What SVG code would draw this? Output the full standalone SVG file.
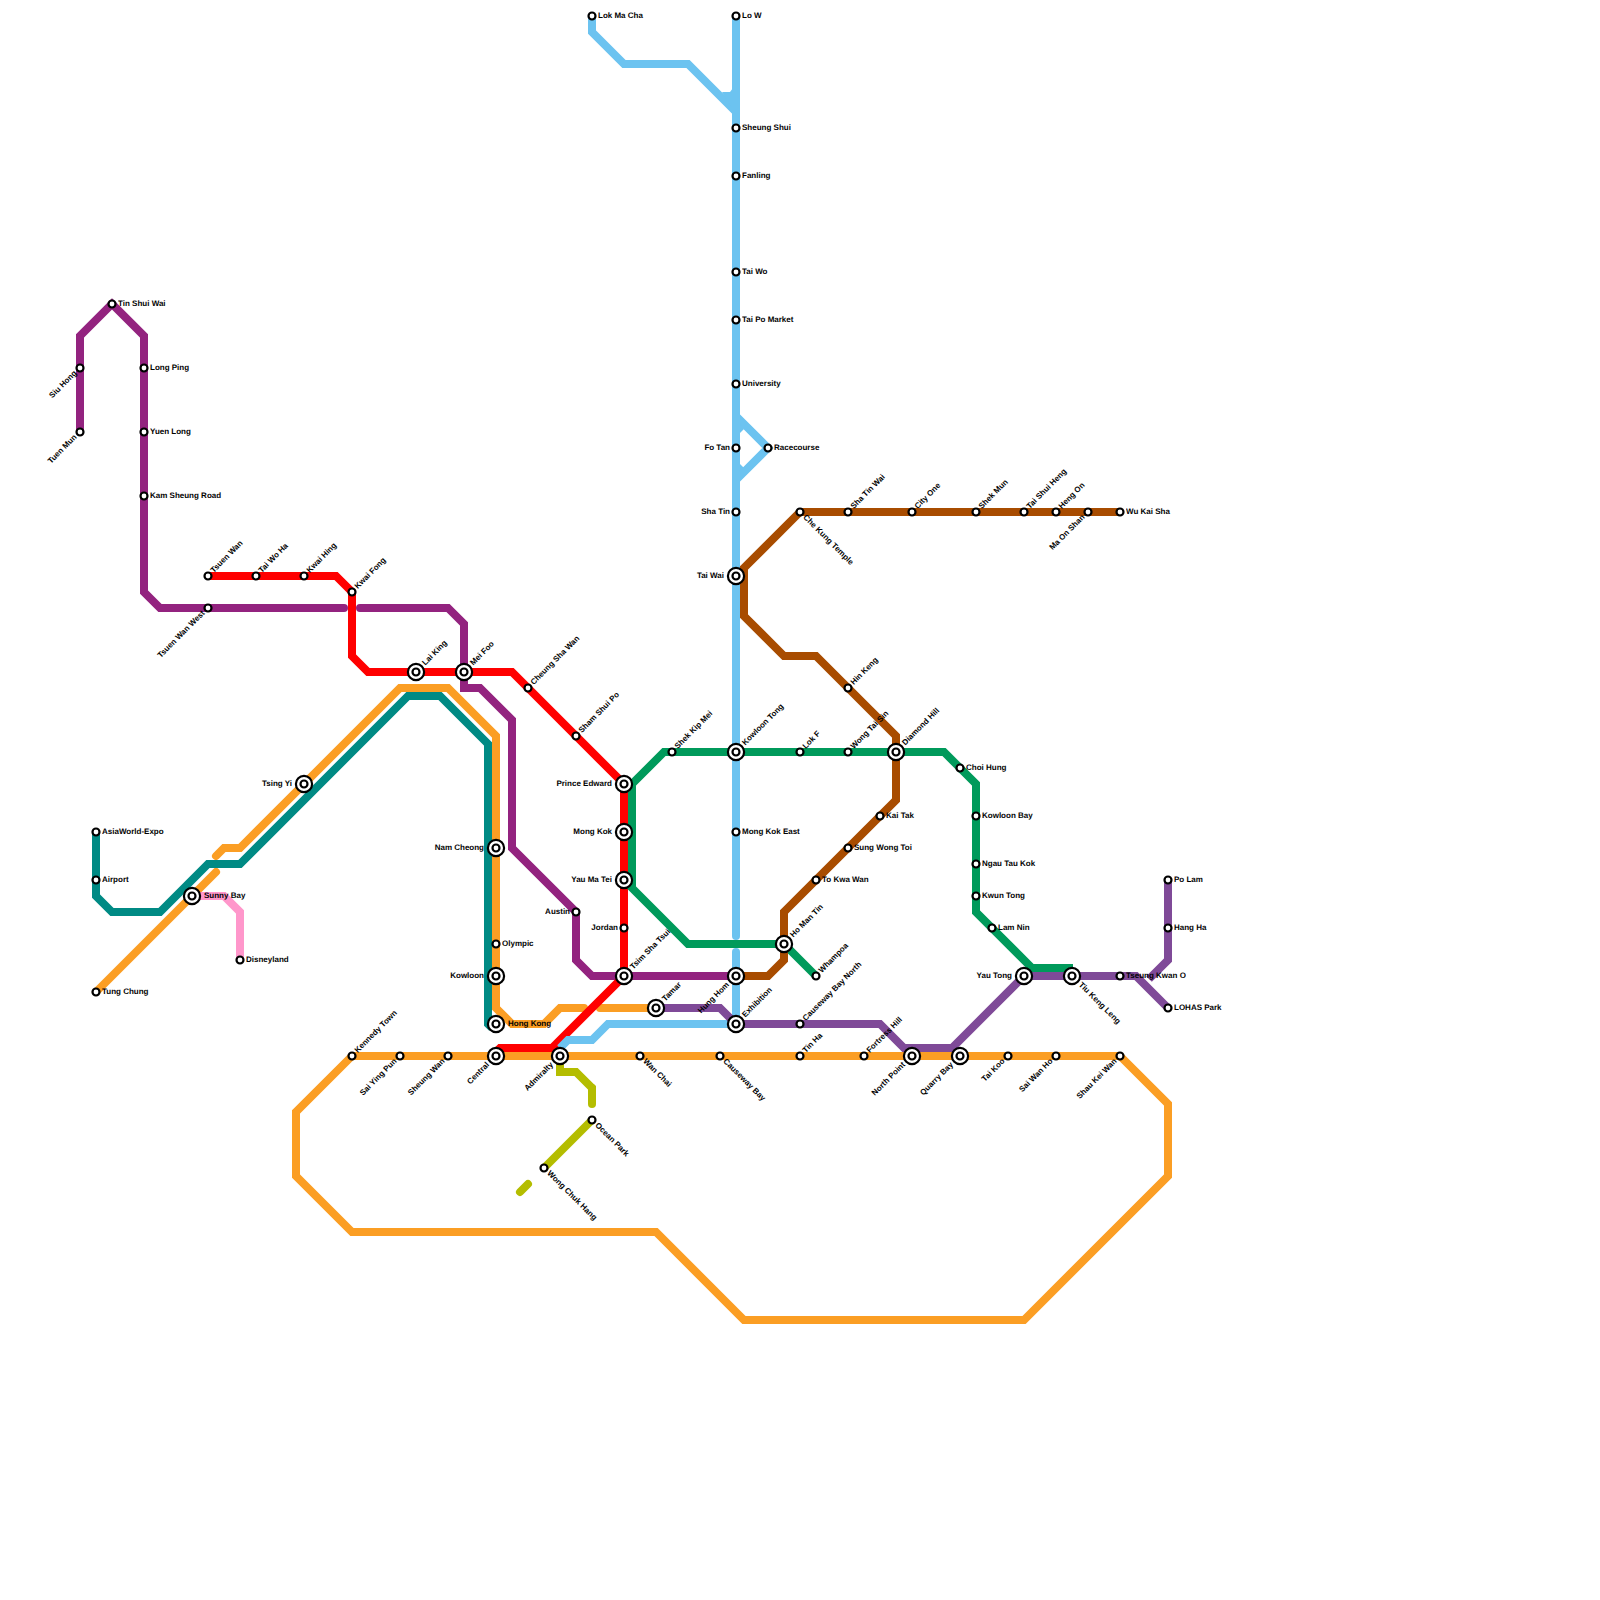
<svg xmlns="http://www.w3.org/2000/svg" width="1600" height="1600" viewBox="0 0 1600 1600">
<style>
.l{fill:none;stroke-width:8;stroke-linejoin:miter;stroke-linecap:butt}
.rc{stroke-linecap:round}
.or{stroke:#FB9E24}.te{stroke:#008A84}.pu{stroke:#93237F}.re{stroke:#FF0000}.gr{stroke:#009A5B}.bl{stroke:#6CC3F0}.br{stroke:#A84C00}.pk{stroke:#FF97CB}.li{stroke:#B4BD00}.vi{stroke:#7F4A98}
.blf{fill:#6CC3F0}
.ring{fill:#fff;stroke:#000;stroke-width:2.2}
text{font-family:"Liberation Sans",Arial,sans-serif;font-size:8px;font-weight:bold;fill:#000;text-rendering:geometricPrecision;opacity:.99}
.e{text-anchor:end}
</style>
<defs>
<circle id="s" class="ring" r="3.5"/>
<g id="i"><circle class="ring" r="8.1"/><circle class="ring" r="3.5"/></g>
</defs>
<rect width="1600" height="1600" fill="#fff"/>
<g id="connectors">
<path class="l or" d="M352,1056H1120L1168,1104V1176L1024,1320H744L656,1232H352L296,1176V1112L352,1056"/>
<path class="l or rc" d="M96,992L216,872"/>
<path class="l or rc" d="M216,856L224,848H240L400,688H448L496,736V1008L512,1024H544L560,1008H584"/>
<path class="l or rc" d="M600,1008H656"/>
<path class="l te" d="M96,832V896L112,912H160L208,864H240L408,696H440L488,744V1024L492,1028"/>
<path class="l pk" d="M192,896H224L240,912V960"/>
<path class="l pu rc" d="M80,432V336L112,304L144,336V592L160,608H344"/>
<path class="l pu rc" d="M360,608H448L464,624V688H480L512,720V848L576,912V960L592,976H736"/>
<path class="l bl" d="M592,16V32L624,64H688L736,112"/>
<polygon class="blf" points="722,92 730,92 733,88 733,110"/>
<path class="l bl rc" d="M736,16V936"/>
<path class="l bl rc" d="M736,952V1024"/>
<path class="l bl" d="M736,416L768,448L736,480"/>
<polygon class="blf" points="740,424 740,433 744,429"/>
<polygon class="blf" points="740,472 740,464 744,468"/>
<path class="l re" d="M208,576H336L352,592V656L368,672H512L624,784V976L552,1048H500L494,1054"/>
<path class="l bl" d="M736,1024H608L592,1040H568L560,1048"/>
<path class="l gr" d="M816,976L784,944H688L624,880"/>
<path class="l gr" d="M632,888V784L664,752H944L976,784V912L1032,968H1073"/>
<path class="l br" d="M1120,512H800L744,568V616L784,656H816L896,736V800L784,912V960L768,976H736"/>
<path class="l vi" d="M656,1008H720L736,1024H880L904,1048H952L1024,976H1136L1168,1008"/>
<path class="l vi" d="M1168,880V960L1149,979"/>
<path class="l li" d="M560,1056V1072H576L592,1088V1104"/>
<path class="l li rc" d="M592,1088V1104"/>
<path class="l li" d="M592,1120L544,1168"/>
<path class="l li rc" d="M528,1184L520,1192"/>
</g>
<g id="n-tin-shui-wai" transform="translate(112 304)"><use href="#s"/><text x="6" y="2">Tin Shui Wai</text></g>
<g id="n-siu-hong" transform="translate(80 368)"><use href="#s"/><text class="e" x="-6" y="2" transform="rotate(-45)">Siu Hong</text></g>
<g id="n-tuen-mun" transform="translate(80 432)"><use href="#s"/><text class="e" x="-6" y="2" transform="rotate(-45)">Tuen Mun</text></g>
<g id="n-long-ping" transform="translate(144 368)"><use href="#s"/><text x="6" y="2">Long Ping</text></g>
<g id="n-yuen-long" transform="translate(144 432)"><use href="#s"/><text x="6" y="2">Yuen Long</text></g>
<g id="n-kam-sheung-road" transform="translate(144 496)"><use href="#s"/><text x="6" y="2">Kam Sheung Road</text></g>
<g id="n-tsuen-wan-west" transform="translate(208 608)"><use href="#s"/><text class="e" x="-6" y="2" transform="rotate(-45)">Tsuen Wan West</text></g>
<g id="n-tsuen-wan" transform="translate(208 576)"><use href="#s"/><text x="6" y="2" transform="rotate(-45)">Tsuen Wan</text></g>
<g id="n-tai-wo-ha" transform="translate(256 576)"><use href="#s"/><text x="6" y="2" transform="rotate(-45)">Tai Wo Ha</text></g>
<g id="n-kwai-hing" transform="translate(304 576)"><use href="#s"/><text x="6" y="2" transform="rotate(-45)">Kwai Hing</text></g>
<g id="n-kwai-fong" transform="translate(352 592)"><use href="#s"/><text x="6" y="2" transform="rotate(-45)">Kwai Fong</text></g>
<g id="n-lai-king" transform="translate(416 672)"><use href="#i"/><text x="11" y="2" transform="rotate(-45)">Lai King</text></g>
<g id="n-mei-foo" transform="translate(464 672)"><use href="#i"/><text x="11" y="2" transform="rotate(-45)">Mei Foo</text></g>
<g id="n-cheung-sha-wan" transform="translate(528 688)"><use href="#s"/><text x="6" y="2" transform="rotate(-45)">Cheung Sha Wan</text></g>
<g id="n-sham-shui-po" transform="translate(576 736)"><use href="#s"/><text x="6" y="2" transform="rotate(-45)">Sham Shui Po</text></g>
<g id="n-prince-edward" transform="translate(624 784)"><use href="#i"/><text class="e" x="-12" y="2">Prince Edward</text></g>
<g id="n-mong-kok" transform="translate(624 832)"><use href="#i"/><text class="e" x="-12" y="2">Mong Kok</text></g>
<g id="n-yau-ma-tei" transform="translate(624 880)"><use href="#i"/><text class="e" x="-12" y="2">Yau Ma Tei</text></g>
<g id="n-jordan" transform="translate(624 928)"><use href="#s"/><text class="e" x="-6" y="2">Jordan</text></g>
<g id="n-tsim-sha-tsui" transform="translate(624 976)"><use href="#i"/><text x="11" y="2" transform="rotate(-45)">Tsim Sha Tsui</text></g>
<g id="n-austin" transform="translate(576 912)"><use href="#s"/><text class="e" x="-6" y="2">Austin</text></g>
<g id="n-nam-cheong" transform="translate(496 848)"><use href="#i"/><text class="e" x="-12" y="2">Nam Cheong</text></g>
<g id="n-olympic" transform="translate(496 944)"><use href="#s"/><text x="6" y="2">Olympic</text></g>
<g id="n-kowloon" transform="translate(496 976)"><use href="#i"/><text class="e" x="-12" y="2">Kowloon</text></g>
<g id="n-hong-kong" transform="translate(496 1024)"><use href="#i"/><text x="12" y="2">Hong Kong</text></g>
<g id="n-tsing-yi" transform="translate(304 784)"><use href="#i"/><text class="e" x="-12" y="2">Tsing Yi</text></g>
<g id="n-sunny-bay" transform="translate(192 896)"><use href="#i"/><text x="12" y="2">Sunny Bay</text></g>
<g id="n-disneyland" transform="translate(240 960)"><use href="#s"/><text x="6" y="2">Disneyland</text></g>
<g id="n-tung-chung" transform="translate(96 992)"><use href="#s"/><text x="6" y="2">Tung Chung</text></g>
<g id="n-asiaworld-expo" transform="translate(96 832)"><use href="#s"/><text x="6" y="2">AsiaWorld-Expo</text></g>
<g id="n-airport" transform="translate(96 880)"><use href="#s"/><text x="6" y="2">Airport</text></g>
<g id="n-kennedy-town" transform="translate(352 1056)"><use href="#s"/><text x="6" y="2" transform="rotate(-45)">Kennedy Town</text></g>
<g id="n-sai-ying-pun" transform="translate(400 1056)"><use href="#s"/><text class="e" x="-6" y="2" transform="rotate(-45)">Sai Ying Pun</text></g>
<g id="n-sheung-wan" transform="translate(448 1056)"><use href="#s"/><text class="e" x="-6" y="2" transform="rotate(-45)">Sheung Wan</text></g>
<g id="n-central" transform="translate(496 1056)"><use href="#i"/><text class="e" x="-11" y="2" transform="rotate(-45)">Central</text></g>
<g id="n-admiralty" transform="translate(560 1056)"><use href="#i"/><text class="e" x="-11" y="2" transform="rotate(-45)">Admiralty</text></g>
<g id="n-wan-chai" transform="translate(640 1056)"><use href="#s"/><text x="6" y="2" transform="rotate(45)">Wan Chai</text></g>
<g id="n-causeway-bay" transform="translate(720 1056)"><use href="#s"/><text x="6" y="2" transform="rotate(45)">Causeway Bay</text></g>
<g id="n-tin-ha" transform="translate(800 1056)"><use href="#s"/><text x="6" y="2" transform="rotate(-45)">Tin Ha</text></g>
<g id="n-fortress-hill" transform="translate(864 1056)"><use href="#s"/><text x="6" y="2" transform="rotate(-45)">Fortress Hill</text></g>
<g id="n-north-point" transform="translate(912 1056)"><use href="#i"/><text class="e" x="-11" y="2" transform="rotate(-45)">North Point</text></g>
<g id="n-quarry-bay" transform="translate(960 1056)"><use href="#i"/><text class="e" x="-11" y="2" transform="rotate(-45)">Quarry Bay</text></g>
<g id="n-tai-koo" transform="translate(1008 1056)"><use href="#s"/><text class="e" x="-6" y="2" transform="rotate(-45)">Tai Koo</text></g>
<g id="n-sai-wan-ho" transform="translate(1056 1056)"><use href="#s"/><text class="e" x="-6" y="2" transform="rotate(-45)">Sai Wan Ho</text></g>
<g id="n-shau-kei-wan" transform="translate(1120 1056)"><use href="#s"/><text class="e" x="-6" y="2" transform="rotate(-45)">Shau Kei Wan</text></g>
<g id="n-tamar" transform="translate(656 1008)"><use href="#i"/><text x="11" y="2" transform="rotate(-45)">Tamar</text></g>
<g id="n-hung-hom" transform="translate(736 976)"><use href="#i"/><text class="e" x="-11" y="2" transform="rotate(-45)">Hung Hom</text></g>
<g id="n-exhibition" transform="translate(736 1024)"><use href="#i"/><text x="11" y="2" transform="rotate(-45)">Exhibition</text></g>
<g id="n-causeway-bay-north" transform="translate(800 1024)"><use href="#s"/><text x="6" y="2" transform="rotate(-45)">Causeway Bay North</text></g>
<g id="n-whampoa" transform="translate(816 976)"><use href="#s"/><text x="6" y="2" transform="rotate(-45)">Whampoa</text></g>
<g id="n-ho-man-tin" transform="translate(784 944)"><use href="#i"/><text x="11" y="2" transform="rotate(-45)">Ho Man Tin</text></g>
<g id="n-shek-kip-mei" transform="translate(672 752)"><use href="#s"/><text x="6" y="2" transform="rotate(-45)">Shek Kip Mei</text></g>
<g id="n-kowloon-tong" transform="translate(736 752)"><use href="#i"/><text x="11" y="2" transform="rotate(-45)">Kowloon Tong</text></g>
<g id="n-lok-f" transform="translate(800 752)"><use href="#s"/><text x="6" y="2" transform="rotate(-45)">Lok F</text></g>
<g id="n-wong-tai-sin" transform="translate(848 752)"><use href="#s"/><text x="6" y="2" transform="rotate(-45)">Wong Tai Sin</text></g>
<g id="n-diamond-hill" transform="translate(896 752)"><use href="#i"/><text x="11" y="2" transform="rotate(-45)">Diamond Hill</text></g>
<g id="n-choi-hung" transform="translate(960 768)"><use href="#s"/><text x="6" y="2">Choi Hung</text></g>
<g id="n-kowloon-bay" transform="translate(976 816)"><use href="#s"/><text x="6" y="2">Kowloon Bay</text></g>
<g id="n-ngau-tau-kok" transform="translate(976 864)"><use href="#s"/><text x="6" y="2">Ngau Tau Kok</text></g>
<g id="n-kwun-tong" transform="translate(976 896)"><use href="#s"/><text x="6" y="2">Kwun Tong</text></g>
<g id="n-lam-nin" transform="translate(992 928)"><use href="#s"/><text x="6" y="2">Lam Nin</text></g>
<g id="n-yau-tong" transform="translate(1024 976)"><use href="#i"/><text class="e" x="-12" y="2">Yau Tong</text></g>
<g id="n-tiu-keng-leng" transform="translate(1072 976)"><use href="#i"/><text x="11" y="2" transform="rotate(45)">Tiu Keng Leng</text></g>
<g id="n-tseung-kwan-o" transform="translate(1120 976)"><use href="#s"/><text x="6" y="2">Tseung Kwan O</text></g>
<g id="n-po-lam" transform="translate(1168 880)"><use href="#s"/><text x="6" y="2">Po Lam</text></g>
<g id="n-hang-ha" transform="translate(1168 928)"><use href="#s"/><text x="6" y="2">Hang Ha</text></g>
<g id="n-lohas-park" transform="translate(1168 1008)"><use href="#s"/><text x="6" y="2">LOHAS Park</text></g>
<g id="n-kai-tak" transform="translate(880 816)"><use href="#s"/><text x="6" y="2">Kai Tak</text></g>
<g id="n-sung-wong-toi" transform="translate(848 848)"><use href="#s"/><text x="6" y="2">Sung Wong Toi</text></g>
<g id="n-to-kwa-wan" transform="translate(816 880)"><use href="#s"/><text x="6" y="2">To Kwa Wan</text></g>
<g id="n-hin-keng" transform="translate(848 688)"><use href="#s"/><text x="6" y="2" transform="rotate(-45)">Hin Keng</text></g>
<g id="n-che-kung-temple" transform="translate(800 512)"><use href="#s"/><text x="6" y="2" transform="rotate(45)">Che Kung Temple</text></g>
<g id="n-sha-tin-wai" transform="translate(848 512)"><use href="#s"/><text x="6" y="2" transform="rotate(-45)">Sha Tin Wai</text></g>
<g id="n-city-one" transform="translate(912 512)"><use href="#s"/><text x="6" y="2" transform="rotate(-45)">City One</text></g>
<g id="n-shek-mun" transform="translate(976 512)"><use href="#s"/><text x="6" y="2" transform="rotate(-45)">Shek Mun</text></g>
<g id="n-tai-shui-heng" transform="translate(1024 512)"><use href="#s"/><text x="6" y="2" transform="rotate(-45)">Tai Shui Heng</text></g>
<g id="n-heng-on" transform="translate(1056 512)"><use href="#s"/><text x="6" y="2" transform="rotate(-45)">Heng On</text></g>
<g id="n-ma-on-shan" transform="translate(1088 512)"><use href="#s"/><text class="e" x="-6" y="2" transform="rotate(-45)">Ma On Shan</text></g>
<g id="n-wu-kai-sha" transform="translate(1120 512)"><use href="#s"/><text x="6" y="2">Wu Kai Sha</text></g>
<g id="n-tai-wai" transform="translate(736 576)"><use href="#i"/><text class="e" x="-12" y="2">Tai Wai</text></g>
<g id="n-sha-tin" transform="translate(736 512)"><use href="#s"/><text class="e" x="-6" y="2">Sha Tin</text></g>
<g id="n-fo-tan" transform="translate(736 448)"><use href="#s"/><text class="e" x="-6" y="2">Fo Tan</text></g>
<g id="n-racecourse" transform="translate(768 448)"><use href="#s"/><text x="6" y="2">Racecourse</text></g>
<g id="n-university" transform="translate(736 384)"><use href="#s"/><text x="6" y="2">University</text></g>
<g id="n-tai-po-market" transform="translate(736 320)"><use href="#s"/><text x="6" y="2">Tai Po Market</text></g>
<g id="n-tai-wo" transform="translate(736 272)"><use href="#s"/><text x="6" y="2">Tai Wo</text></g>
<g id="n-fanling" transform="translate(736 176)"><use href="#s"/><text x="6" y="2">Fanling</text></g>
<g id="n-sheung-shui" transform="translate(736 128)"><use href="#s"/><text x="6" y="2">Sheung Shui</text></g>
<g id="n-lo-w" transform="translate(736 16)"><use href="#s"/><text x="6" y="2">Lo W</text></g>
<g id="n-lok-ma-cha" transform="translate(592 16)"><use href="#s"/><text x="6" y="2">Lok Ma Cha</text></g>
<g id="n-mong-kok-east" transform="translate(736 832)"><use href="#s"/><text x="6" y="2">Mong Kok East</text></g>
<g id="n-ocean-park" transform="translate(592 1120)"><use href="#s"/><text x="6" y="2" transform="rotate(45)">Ocean Park</text></g>
<g id="n-wong-chuk-hang" transform="translate(544 1168)"><use href="#s"/><text x="6" y="2" transform="rotate(45)">Wong Chuk Hang</text></g>
</svg>
